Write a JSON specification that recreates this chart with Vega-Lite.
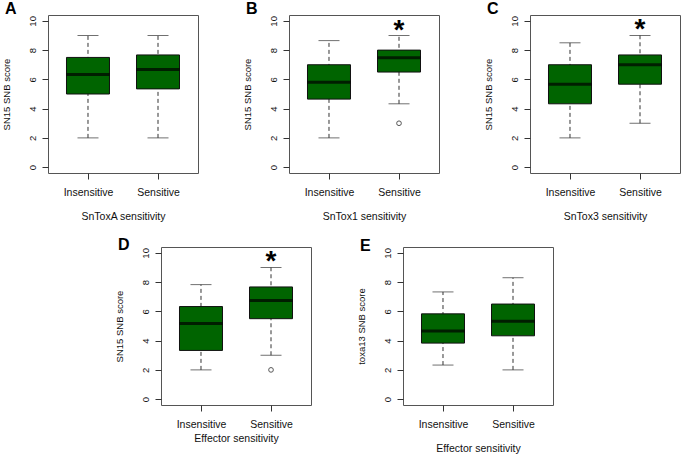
{
  "$schema": "https://vega.github.io/schema/vega-lite/v6.json",
  "padding": {"left": 0, "top": 0, "right": 0, "bottom": 0},
  "background": "white",
  "datasets": {
    "stats": [
      {"panel": "A", "group": "Insensitive", "lower": 2, "q1": 5, "median": 6.33, "q3": 7.5, "upper": 9},
      {"panel": "A", "group": "Sensitive", "lower": 2, "q1": 5.35, "median": 6.67, "q3": 7.67, "upper": 9},
      {"panel": "B", "group": "Insensitive", "lower": 2, "q1": 4.65, "median": 5.8, "q3": 7.0, "upper": 8.65},
      {"panel": "B", "group": "Sensitive", "lower": 4.33, "q1": 6.5, "median": 7.47, "q3": 8.0, "upper": 9},
      {"panel": "C", "group": "Insensitive", "lower": 2, "q1": 4.33, "median": 5.67, "q3": 7.0, "upper": 8.5},
      {"panel": "C", "group": "Sensitive", "lower": 3, "q1": 5.67, "median": 7.0, "q3": 7.67, "upper": 9},
      {"panel": "D", "group": "Insensitive", "lower": 2, "q1": 3.33, "median": 5.17, "q3": 6.33, "upper": 7.83},
      {"panel": "D", "group": "Sensitive", "lower": 3, "q1": 5.5, "median": 6.75, "q3": 7.67, "upper": 9},
      {"panel": "E", "group": "Insensitive", "lower": 2.33, "q1": 3.83, "median": 4.65, "q3": 5.83, "upper": 7.33},
      {"panel": "E", "group": "Sensitive", "lower": 2, "q1": 4.33, "median": 5.33, "q3": 6.5, "upper": 8.3}
    ],
    "outliers": [
      {"panel": "B", "group": "Sensitive", "value": 3},
      {"panel": "D", "group": "Sensitive", "value": 2}
    ],
    "stars": [
      {"panel": "B", "group": "Sensitive", "y": 9.65},
      {"panel": "C", "group": "Sensitive", "y": 9.72},
      {"panel": "D", "group": "Sensitive", "y": 9.72}
    ]
  },
  "vconcat": [
    {
      "hconcat": [
        {
          "width": 150, "height": 158,
          "title": {"text": "A"},
          "encoding": {"x": {"field": "group", "type": "nominal", "scale": {"type": "point", "domain": ["Insensitive", "Sensitive"], "padding": 0.571}, "axis": {"title": "SnToxA sensitivity"}}},
          "layer": [
            {"data": {"name": "stats"}, "transform": [{"filter": "datum.panel === 'A'"}], "mark": {"type": "rule", "strokeDash": [4, 3], "color": "#333"}, "encoding": {"y": {"field": "lower", "type": "quantitative", "scale": {"domain": [-0.4, 10.4], "nice": false, "zero": false}, "axis": {"values": [0, 2, 4, 6, 8, 10], "labelOverlap": false}, "title": "SN15 SNB score"}, "y2": {"field": "upper"}}},
            {"data": {"name": "stats"}, "transform": [{"filter": "datum.panel === 'A'"}], "mark": {"type": "tick", "size": 21, "thickness": 1, "color": "#333"}, "encoding": {"y": {"field": "lower", "type": "quantitative", "title": "SN15 SNB score", "axis": {"values": [0, 2, 4, 6, 8, 10], "labelOverlap": false}}}},
            {"data": {"name": "stats"}, "transform": [{"filter": "datum.panel === 'A'"}], "mark": {"type": "tick", "size": 21, "thickness": 1, "color": "#333"}, "encoding": {"y": {"field": "upper", "type": "quantitative", "title": "SN15 SNB score", "axis": {"values": [0, 2, 4, 6, 8, 10], "labelOverlap": false}}}},
            {"data": {"name": "stats"}, "transform": [{"filter": "datum.panel === 'A'"}], "mark": {"type": "bar", "width": 43, "fill": "#006400", "stroke": "#111", "strokeWidth": 1}, "encoding": {"y": {"field": "q1", "type": "quantitative", "title": "SN15 SNB score", "axis": {"values": [0, 2, 4, 6, 8, 10], "labelOverlap": false}}, "y2": {"field": "q3"}}},
            {"data": {"name": "stats"}, "transform": [{"filter": "datum.panel === 'A'"}], "mark": {"type": "tick", "size": 43, "thickness": 3, "color": "#000"}, "encoding": {"y": {"field": "median", "type": "quantitative", "title": "SN15 SNB score", "axis": {"values": [0, 2, 4, 6, 8, 10], "labelOverlap": false}}}},
            {"data": {"name": "outliers"}, "transform": [{"filter": "datum.panel === 'A'"}], "mark": {"type": "point", "shape": "circle", "filled": false, "size": 22, "color": "#111", "strokeWidth": 1}, "encoding": {"y": {"field": "value", "type": "quantitative", "title": "SN15 SNB score", "axis": {"values": [0, 2, 4, 6, 8, 10], "labelOverlap": false}}}},
            {"data": {"name": "stars"}, "transform": [{"filter": "datum.panel === 'A'"}], "mark": {"type": "text", "text": "*", "fontSize": 28, "fontWeight": "bold", "baseline": "alphabetic", "dy": 13, "color": "#000"}, "encoding": {"y": {"field": "y", "type": "quantitative", "title": "SN15 SNB score", "axis": {"values": [0, 2, 4, 6, 8, 10], "labelOverlap": false}}}}
          ]
        },
        {
          "width": 150, "height": 158,
          "title": {"text": "B"},
          "encoding": {"x": {"field": "group", "type": "nominal", "scale": {"type": "point", "domain": ["Insensitive", "Sensitive"], "padding": 0.571}, "axis": {"title": "SnTox1 sensitivity"}}},
          "layer": [
            {"data": {"name": "stats"}, "transform": [{"filter": "datum.panel === 'B'"}], "mark": {"type": "rule", "strokeDash": [4, 3], "color": "#333"}, "encoding": {"y": {"field": "lower", "type": "quantitative", "scale": {"domain": [-0.4, 10.4], "nice": false, "zero": false}, "axis": {"values": [0, 2, 4, 6, 8, 10], "labelOverlap": false}, "title": "SN15 SNB score"}, "y2": {"field": "upper"}}},
            {"data": {"name": "stats"}, "transform": [{"filter": "datum.panel === 'B'"}], "mark": {"type": "tick", "size": 21, "thickness": 1, "color": "#333"}, "encoding": {"y": {"field": "lower", "type": "quantitative", "title": "SN15 SNB score", "axis": {"values": [0, 2, 4, 6, 8, 10], "labelOverlap": false}}}},
            {"data": {"name": "stats"}, "transform": [{"filter": "datum.panel === 'B'"}], "mark": {"type": "tick", "size": 21, "thickness": 1, "color": "#333"}, "encoding": {"y": {"field": "upper", "type": "quantitative", "title": "SN15 SNB score", "axis": {"values": [0, 2, 4, 6, 8, 10], "labelOverlap": false}}}},
            {"data": {"name": "stats"}, "transform": [{"filter": "datum.panel === 'B'"}], "mark": {"type": "bar", "width": 43, "fill": "#006400", "stroke": "#111", "strokeWidth": 1}, "encoding": {"y": {"field": "q1", "type": "quantitative", "title": "SN15 SNB score", "axis": {"values": [0, 2, 4, 6, 8, 10], "labelOverlap": false}}, "y2": {"field": "q3"}}},
            {"data": {"name": "stats"}, "transform": [{"filter": "datum.panel === 'B'"}], "mark": {"type": "tick", "size": 43, "thickness": 3, "color": "#000"}, "encoding": {"y": {"field": "median", "type": "quantitative", "title": "SN15 SNB score", "axis": {"values": [0, 2, 4, 6, 8, 10], "labelOverlap": false}}}},
            {"data": {"name": "outliers"}, "transform": [{"filter": "datum.panel === 'B'"}], "mark": {"type": "point", "shape": "circle", "filled": false, "size": 22, "color": "#111", "strokeWidth": 1}, "encoding": {"y": {"field": "value", "type": "quantitative", "title": "SN15 SNB score", "axis": {"values": [0, 2, 4, 6, 8, 10], "labelOverlap": false}}}},
            {"data": {"name": "stars"}, "transform": [{"filter": "datum.panel === 'B'"}], "mark": {"type": "text", "text": "*", "fontSize": 28, "fontWeight": "bold", "baseline": "alphabetic", "dy": 13, "color": "#000"}, "encoding": {"y": {"field": "y", "type": "quantitative", "title": "SN15 SNB score", "axis": {"values": [0, 2, 4, 6, 8, 10], "labelOverlap": false}}}}
          ]
        },
        {
          "width": 150, "height": 158,
          "title": {"text": "C"},
          "encoding": {"x": {"field": "group", "type": "nominal", "scale": {"type": "point", "domain": ["Insensitive", "Sensitive"], "padding": 0.571}, "axis": {"title": "SnTox3 sensitivity"}}},
          "layer": [
            {"data": {"name": "stats"}, "transform": [{"filter": "datum.panel === 'C'"}], "mark": {"type": "rule", "strokeDash": [4, 3], "color": "#333"}, "encoding": {"y": {"field": "lower", "type": "quantitative", "scale": {"domain": [-0.4, 10.4], "nice": false, "zero": false}, "axis": {"values": [0, 2, 4, 6, 8, 10], "labelOverlap": false}, "title": "SN15 SNB score"}, "y2": {"field": "upper"}}},
            {"data": {"name": "stats"}, "transform": [{"filter": "datum.panel === 'C'"}], "mark": {"type": "tick", "size": 21, "thickness": 1, "color": "#333"}, "encoding": {"y": {"field": "lower", "type": "quantitative", "title": "SN15 SNB score", "axis": {"values": [0, 2, 4, 6, 8, 10], "labelOverlap": false}}}},
            {"data": {"name": "stats"}, "transform": [{"filter": "datum.panel === 'C'"}], "mark": {"type": "tick", "size": 21, "thickness": 1, "color": "#333"}, "encoding": {"y": {"field": "upper", "type": "quantitative", "title": "SN15 SNB score", "axis": {"values": [0, 2, 4, 6, 8, 10], "labelOverlap": false}}}},
            {"data": {"name": "stats"}, "transform": [{"filter": "datum.panel === 'C'"}], "mark": {"type": "bar", "width": 43, "fill": "#006400", "stroke": "#111", "strokeWidth": 1}, "encoding": {"y": {"field": "q1", "type": "quantitative", "title": "SN15 SNB score", "axis": {"values": [0, 2, 4, 6, 8, 10], "labelOverlap": false}}, "y2": {"field": "q3"}}},
            {"data": {"name": "stats"}, "transform": [{"filter": "datum.panel === 'C'"}], "mark": {"type": "tick", "size": 43, "thickness": 3, "color": "#000"}, "encoding": {"y": {"field": "median", "type": "quantitative", "title": "SN15 SNB score", "axis": {"values": [0, 2, 4, 6, 8, 10], "labelOverlap": false}}}},
            {"data": {"name": "outliers"}, "transform": [{"filter": "datum.panel === 'C'"}], "mark": {"type": "point", "shape": "circle", "filled": false, "size": 22, "color": "#111", "strokeWidth": 1}, "encoding": {"y": {"field": "value", "type": "quantitative", "title": "SN15 SNB score", "axis": {"values": [0, 2, 4, 6, 8, 10], "labelOverlap": false}}}},
            {"data": {"name": "stars"}, "transform": [{"filter": "datum.panel === 'C'"}], "mark": {"type": "text", "text": "*", "fontSize": 28, "fontWeight": "bold", "baseline": "alphabetic", "dy": 13, "color": "#000"}, "encoding": {"y": {"field": "y", "type": "quantitative", "title": "SN15 SNB score", "axis": {"values": [0, 2, 4, 6, 8, 10], "labelOverlap": false}}}}
          ]
        }
      ],
      "spacing": 42
    },
    {
      "hconcat": [
        {
          "width": 22, "height": 10,
          "data": {"values": [{"a": 0}]},
          "mark": {"type": "point", "opacity": 0},
          "view": {"stroke": null}
        },
        {
          "width": 150, "height": 158,
          "title": {"text": "D", "offset": -6},
          "encoding": {"x": {"field": "group", "type": "nominal", "scale": {"type": "point", "domain": ["Insensitive", "Sensitive"], "padding": 0.571}, "axis": {"title": "Effector sensitivity", "titlePadding": 4}}},
          "layer": [
            {"data": {"name": "stats"}, "transform": [{"filter": "datum.panel === 'D'"}], "mark": {"type": "rule", "strokeDash": [4, 3], "color": "#333"}, "encoding": {"y": {"field": "lower", "type": "quantitative", "scale": {"domain": [-0.4, 10.4], "nice": false, "zero": false}, "axis": {"values": [0, 2, 4, 6, 8, 10], "labelOverlap": false}, "title": "SN15 SNB score"}, "y2": {"field": "upper"}}},
            {"data": {"name": "stats"}, "transform": [{"filter": "datum.panel === 'D'"}], "mark": {"type": "tick", "size": 21, "thickness": 1, "color": "#333"}, "encoding": {"y": {"field": "lower", "type": "quantitative", "title": "SN15 SNB score", "axis": {"values": [0, 2, 4, 6, 8, 10], "labelOverlap": false}}}},
            {"data": {"name": "stats"}, "transform": [{"filter": "datum.panel === 'D'"}], "mark": {"type": "tick", "size": 21, "thickness": 1, "color": "#333"}, "encoding": {"y": {"field": "upper", "type": "quantitative", "title": "SN15 SNB score", "axis": {"values": [0, 2, 4, 6, 8, 10], "labelOverlap": false}}}},
            {"data": {"name": "stats"}, "transform": [{"filter": "datum.panel === 'D'"}], "mark": {"type": "bar", "width": 43, "fill": "#006400", "stroke": "#111", "strokeWidth": 1}, "encoding": {"y": {"field": "q1", "type": "quantitative", "title": "SN15 SNB score", "axis": {"values": [0, 2, 4, 6, 8, 10], "labelOverlap": false}}, "y2": {"field": "q3"}}},
            {"data": {"name": "stats"}, "transform": [{"filter": "datum.panel === 'D'"}], "mark": {"type": "tick", "size": 43, "thickness": 3, "color": "#000"}, "encoding": {"y": {"field": "median", "type": "quantitative", "title": "SN15 SNB score", "axis": {"values": [0, 2, 4, 6, 8, 10], "labelOverlap": false}}}},
            {"data": {"name": "outliers"}, "transform": [{"filter": "datum.panel === 'D'"}], "mark": {"type": "point", "shape": "circle", "filled": false, "size": 22, "color": "#111", "strokeWidth": 1}, "encoding": {"y": {"field": "value", "type": "quantitative", "title": "SN15 SNB score", "axis": {"values": [0, 2, 4, 6, 8, 10], "labelOverlap": false}}}},
            {"data": {"name": "stars"}, "transform": [{"filter": "datum.panel === 'D'"}], "mark": {"type": "text", "text": "*", "fontSize": 28, "fontWeight": "bold", "baseline": "alphabetic", "dy": 13, "color": "#000"}, "encoding": {"y": {"field": "y", "type": "quantitative", "title": "SN15 SNB score", "axis": {"values": [0, 2, 4, 6, 8, 10], "labelOverlap": false}}}}
          ]
        },
        {
          "width": 150, "height": 158,
          "title": {"text": "E", "offset": -7},
          "encoding": {"x": {"field": "group", "type": "nominal", "scale": {"type": "point", "domain": ["Insensitive", "Sensitive"], "padding": 0.571}, "axis": {"title": "Effector sensitivity"}}},
          "layer": [
            {"data": {"name": "stats"}, "transform": [{"filter": "datum.panel === 'E'"}], "mark": {"type": "rule", "strokeDash": [4, 3], "color": "#333"}, "encoding": {"y": {"field": "lower", "type": "quantitative", "scale": {"domain": [-0.4, 10.4], "nice": false, "zero": false}, "axis": {"values": [0, 2, 4, 6, 8, 10], "labelOverlap": false}, "title": "toxa13 SNB score"}, "y2": {"field": "upper"}}},
            {"data": {"name": "stats"}, "transform": [{"filter": "datum.panel === 'E'"}], "mark": {"type": "tick", "size": 21, "thickness": 1, "color": "#333"}, "encoding": {"y": {"field": "lower", "type": "quantitative", "title": "toxa13 SNB score", "axis": {"values": [0, 2, 4, 6, 8, 10], "labelOverlap": false}}}},
            {"data": {"name": "stats"}, "transform": [{"filter": "datum.panel === 'E'"}], "mark": {"type": "tick", "size": 21, "thickness": 1, "color": "#333"}, "encoding": {"y": {"field": "upper", "type": "quantitative", "title": "toxa13 SNB score", "axis": {"values": [0, 2, 4, 6, 8, 10], "labelOverlap": false}}}},
            {"data": {"name": "stats"}, "transform": [{"filter": "datum.panel === 'E'"}], "mark": {"type": "bar", "width": 43, "fill": "#006400", "stroke": "#111", "strokeWidth": 1}, "encoding": {"y": {"field": "q1", "type": "quantitative", "title": "toxa13 SNB score", "axis": {"values": [0, 2, 4, 6, 8, 10], "labelOverlap": false}}, "y2": {"field": "q3"}}},
            {"data": {"name": "stats"}, "transform": [{"filter": "datum.panel === 'E'"}], "mark": {"type": "tick", "size": 43, "thickness": 3, "color": "#000"}, "encoding": {"y": {"field": "median", "type": "quantitative", "title": "toxa13 SNB score", "axis": {"values": [0, 2, 4, 6, 8, 10], "labelOverlap": false}}}},
            {"data": {"name": "outliers"}, "transform": [{"filter": "datum.panel === 'E'"}], "mark": {"type": "point", "shape": "circle", "filled": false, "size": 22, "color": "#111", "strokeWidth": 1}, "encoding": {"y": {"field": "value", "type": "quantitative", "title": "toxa13 SNB score", "axis": {"values": [0, 2, 4, 6, 8, 10], "labelOverlap": false}}}},
            {"data": {"name": "stars"}, "transform": [{"filter": "datum.panel === 'E'"}], "mark": {"type": "text", "text": "*", "fontSize": 28, "fontWeight": "bold", "baseline": "alphabetic", "dy": 13, "color": "#000"}, "encoding": {"y": {"field": "y", "type": "quantitative", "title": "toxa13 SNB score", "axis": {"values": [0, 2, 4, 6, 8, 10], "labelOverlap": false}}}}
          ]
        }
      ],
      "spacing": 43
    }
  ],
  "spacing": 13,
  "config": {
    "font": "Liberation Sans",
    "view": {"stroke": "#555", "strokeWidth": 1},
    "axis": {"domain": false, "grid": false, "tickColor": "#333", "tickSize": 6, "labelColor": "#111", "titleColor": "#111", "labelFont": "Liberation Sans", "titleFont": "Liberation Sans", "titleFontWeight": "normal"},
    "axisX": {"labelAngle": 0, "labelFontSize": 10.5, "titleFontSize": 10.5, "labelPadding": 8, "titlePadding": 14},
    "axisY": {"labelAngle": 270, "labelAlign": "center", "labelBaseline": "bottom", "labelFontSize": 9.5, "titleFontSize": 9.5, "labelPadding": 5, "titlePadding": 16, "labelOverlap": false},
    "title": {"anchor": "start", "frame": "bounds", "fontSize": 16, "fontWeight": "bold", "font": "Liberation Sans", "baseline": "alphabetic", "offset": -2, "dx": 4, "color": "#000"}
  }
}
